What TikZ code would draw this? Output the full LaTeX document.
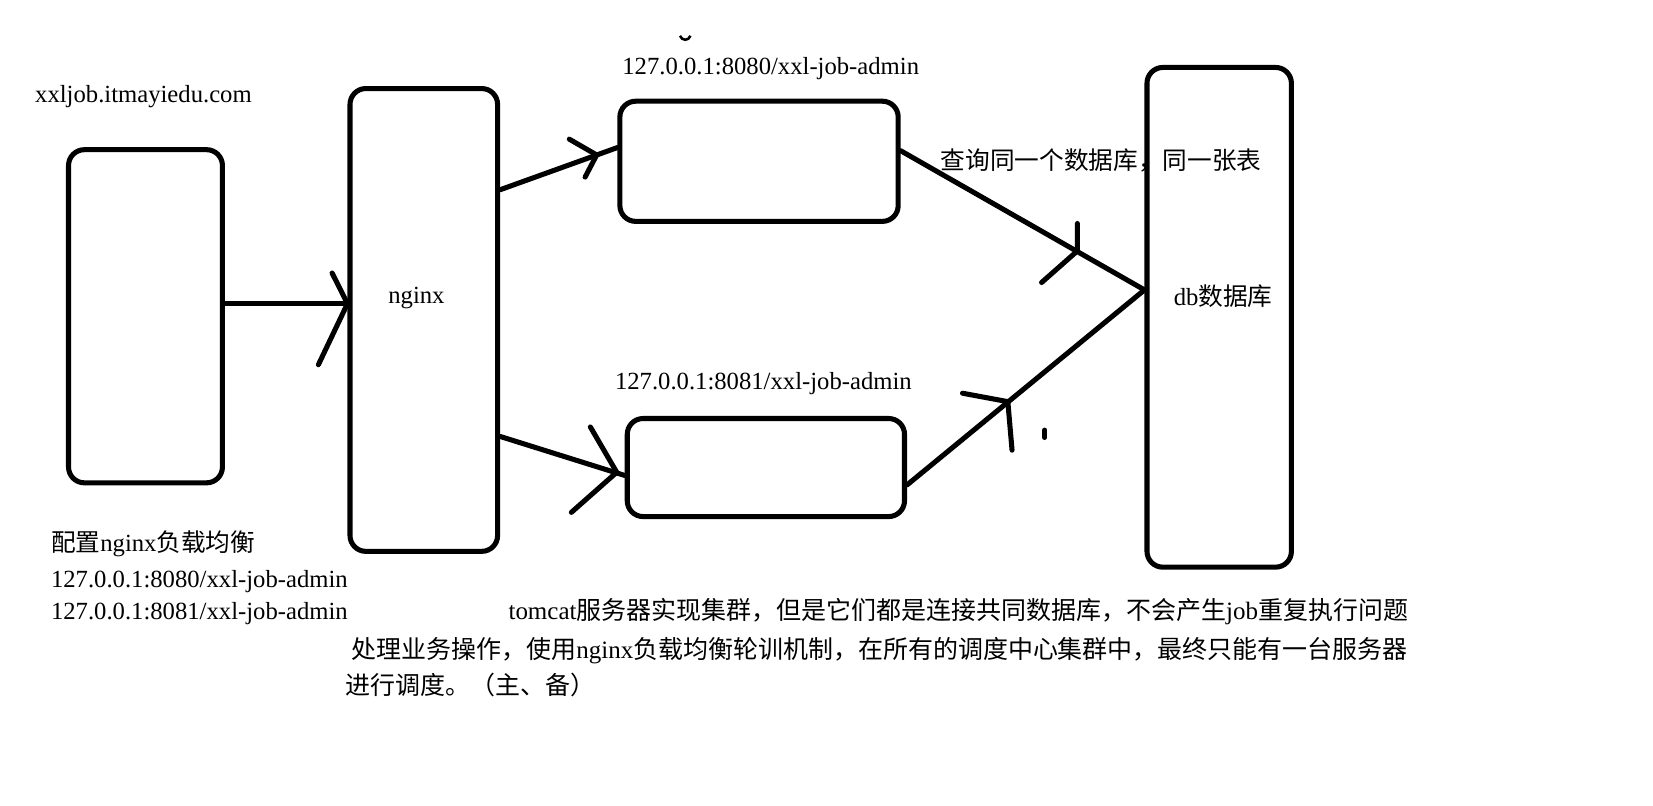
\documentclass[tikz,border=0pt]{standalone}
\usepackage{fontspec}
\setmainfont{Liberation Serif}
\newfontfamily\cjk{Noto Sans CJK SC}
\begin{document}
\begin{tikzpicture}[x=0.5pt,y=-0.5pt,
  box/.style={draw, line width=2.4pt, rounded corners=7.5pt, inner sep=0pt, rectangle},
  conn/.style={line width=2.4pt, line cap=round, line join=round},
  txt/.style={inner sep=0pt, font=\fontsize{11.7}{14}\selectfont},
  txtb/.style={inner sep=0pt, font=\fontsize{11.85}{14}\selectfont}]
\useasboundingbox (0,0) rectangle (1568,764);
% boxes
\node[box, minimum width=73pt, minimum height=158pt] (client) at (138,300) {};
\node[box, minimum width=70pt, minimum height=219.5pt] (nginx) at (402,303.5) {};
\node[box, minimum width=132pt, minimum height=57pt] (adminA) at (720,153) {};
\node[box, minimum width=131.5pt, minimum height=46.5pt] (adminB) at (726.5,443.5) {};
\node[box, minimum width=68.5pt, minimum height=237pt] (db) at (1156.5,301) {};
\coordinate (dbin) at (db.west |- 0,275);
% connectors
\draw[conn] (client.east |- 0,288) -- (nginx.west |- 0,288);
\draw[conn] (315,259) -- (nginx.west |- 0,288) -- (302,346);
\draw[conn] (nginx.east |- 0,180) -- (adminA.west |- 0,140);
\draw[conn] (540,132) -- (566,147) -- (555,168);
\draw[conn] (nginx.east |- 0,414) -- (adminB.west |- 0,451);
\draw[conn] (560,405) -- (585,448) -- (542,486);
\draw[conn] (adminA.east |- 0,143) -- (dbin);
\draw[conn] (1022,212) -- (1022,238) -- (988,268);
\draw[conn] (adminB.east |- 0,460) -- (dbin);
\draw[conn] (913,373) -- (956,381) -- (960,427);
\draw[conn] (991,408) -- (991,415);
\draw[line width=1.2pt] (645,34) .. controls (647,39) and (653,39) .. (655,34);
% texts
\node[txt, anchor=base west] (t1) at (33,97) {xxljob.itmayiedu.com};
\node[txt, anchor=base west] (t2) at (590,71) {127.0.0.1:8080/xxl-job-admin};
\node[txt, anchor=base west] (t3) at (583,369) {127.0.0.1:8081/xxl-job-admin};
\node[txt, anchor=base west] (tn) at (368,288) {nginx};
\node[txt, anchor=west] (t4) at (892,152) {\cjk 查询同一个数据库，同一张表};
\node[txt, anchor=west] (t5) at (1113,281) {db{\cjk 数据库}};
\node[txt, anchor=west] (t6) at (48,516) {{\cjk 配置}nginx{\cjk 负载均衡}};
\node[txt, anchor=base west] (t7) at (48,557) {127.0.0.1:8080/xxl-job-admin};
\node[txt, anchor=base west] (t8) at (48,588) {127.0.0.1:8081/xxl-job-admin};
\node[txtb, anchor=west] (t9) at (482,580) {tomcat{\cjk 服务器实现集群，但是它们都是连接共同数据库，不会产生}job{\cjk 重复执行问题}};
\node[txtb, anchor=west] (t10) at (333,617) {{\cjk 处理业务操作，使用}nginx{\cjk 负载均衡轮训机制，在所有的调度中心集群中，最终只能有一台服务器}};
\node[txtb, anchor=west] (t11) at (327,650) {\cjk 进行调度。（主、备）};
\end{tikzpicture}
\end{document}
